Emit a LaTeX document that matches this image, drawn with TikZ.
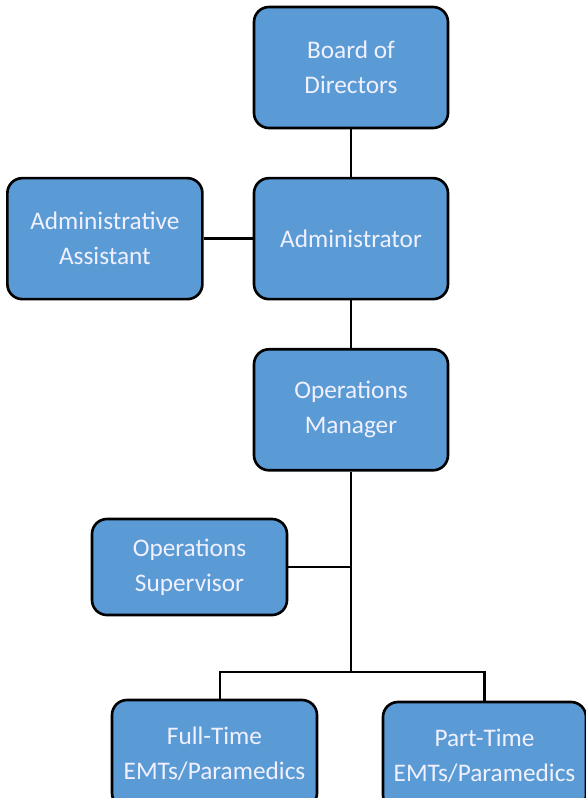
\documentclass[tikz,border=0pt]{standalone}
\usepackage{fontspec}
\setmainfont{Carlito}
\usetikzlibrary{positioning}
\definecolor{boxblue}{HTML}{5B9BD5}
\tikzset{
    bluenode/.style={rectangle, rounded corners=0.3cm, draw=black, fill=boxblue, line width=1.5pt, minimum width=3.88cm, minimum height=2.42cm, text=white!94!blue, align=center, font=\fontsize{14.4}{20}\selectfont},
    myline/.style={draw=black, line width=1.4pt}
}

\begin{document}
\begin{tikzpicture}[node distance=0.95cm]
        \useasboundingbox (0,0) rectangle (11.72,-15.96);

        % ------------------
        % nodes
        % ------------------

        \node[bluenode] (board) at (7.02,-1.35) {Board of\\Directors};
        \node[bluenode, below=of board] (admin) {Administrator};
        \node[bluenode, minimum width=3.9cm, left=0.98cm of admin] (assistant) {Administrative\\Assistant};
        \node[bluenode, below=of admin] (opsmanager) {Operations\\Manager};

        \node[bluenode, minimum width=3.9cm, minimum height=1.92cm] (opssuper) at (3.79,-11.34) {Operations\\Supervisor};

        \node[bluenode, minimum width=4.1cm, minimum height=2.16cm] (fulltime) at (4.29,-15.08) {Full-Time\\EMTs/Paramedics};
        \node[bluenode, minimum width=4.06cm, minimum height=2.16cm] (parttime) at (9.69,-15.12) {Part-Time\\EMTs/Paramedics};

        \coordinate (split) at (opsmanager.south |- 0,-13.44);
        \coordinate (tee) at (opssuper.east -| split);

        % ------------------
        % lines
        % ------------------

        \draw[myline] (board) -- (admin);
        \draw[myline] (assistant) -- (admin);
        \draw[myline] (admin) -- (opsmanager);
        \draw[myline] (opsmanager) -- (split);
        \draw[myline] (opssuper) -- (tee);
        \draw[myline] ([xshift=0.11cm]fulltime.north) |- (split) -| (parttime.north);

    \end{tikzpicture}
\end{document}
